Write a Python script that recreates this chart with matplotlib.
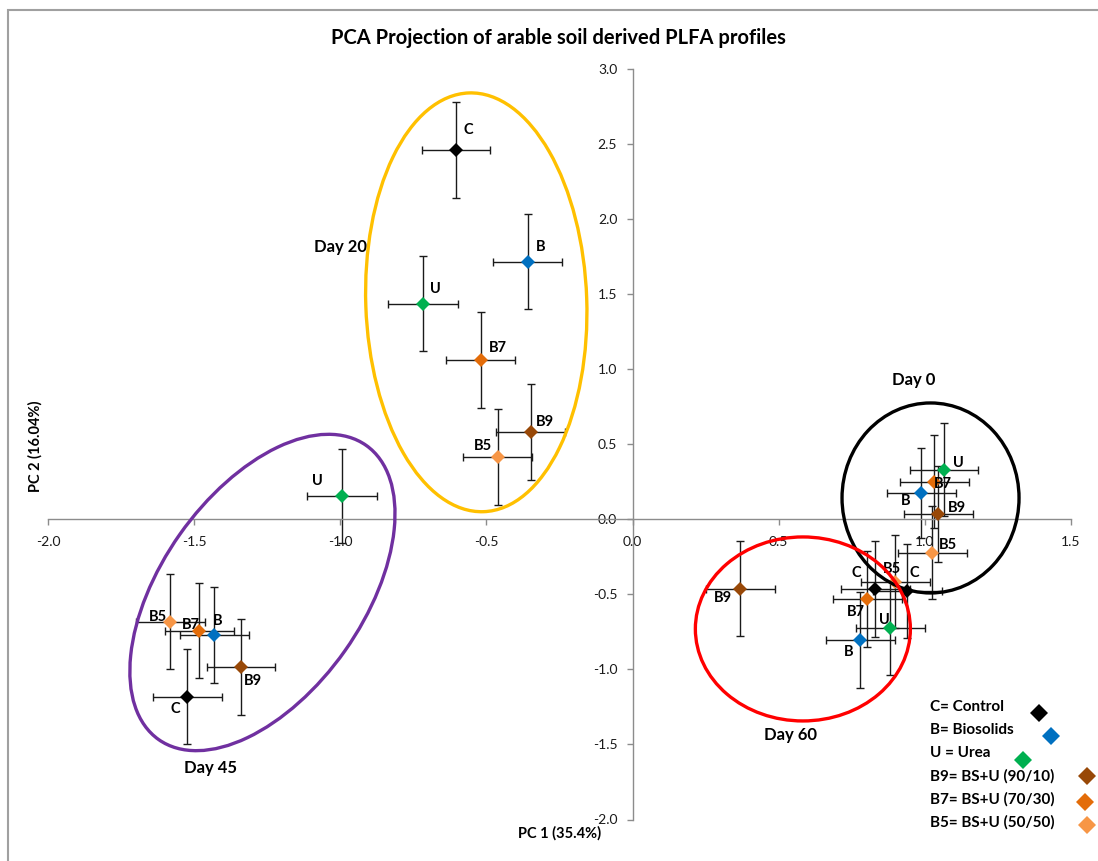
import numpy as np
import matplotlib
matplotlib.use('Agg')
import matplotlib.pyplot as plt
from matplotlib.patches import Ellipse, Rectangle
from matplotlib.transforms import ScaledTranslation

plt.rcParams['font.family'] = ['Lato', 'DejaVu Sans']
plt.rcParams['axes.unicode_minus'] = False

# sampling days, same order in every series below
days = ['Day 0', 'Day 20', 'Day 45', 'Day 60']

# treatments: short code, legend text, colour
codes = ['C', 'B', 'U', 'B9', 'B7', 'B5']
legend_text = ['C= Control', 'B= Biosolids', 'U = Urea',
               'B9= BS+U (90/10)', 'B7= BS+U (70/30)', 'B5= BS+U (50/50)']
colors = ['#000000', '#0070C0', '#00B050', '#984807', '#E36C09', '#F79646']

# PC1 / PC2 scores (mean) per treatment, by day
pc1 = {
    'C':  [0.940, -0.605, -1.525, 0.831],
    'B':  [0.988, -0.359, -1.432, 0.779],
    'U':  [1.067, -0.718, -0.995, 0.882],
    'B9': [1.046, -0.349, -1.340, 0.369],
    'B7': [1.032, -0.520, -1.484, 0.803],
    'B5': [1.026, -0.462, -1.583, 0.899],
}
pc2 = {
    'C':  [-0.477, 2.463, -1.183, -0.463],
    'B':  [0.177, 1.717, -0.770, -0.803],
    'U':  [0.330, 1.437, 0.157, -0.723],
    'B9': [0.037, 0.583, -0.983, -0.463],
    'B7': [0.250, 1.063, -0.743, -0.530],
    'B5': [-0.223, 0.417, -0.683, -0.417],
}
# error bars
pc1_err = {
    'C':  [0.118, 0.116, 0.118, 0.118],
    'B':  [0.118, 0.118, 0.118, 0.118],
    'U':  [0.117, 0.120, 0.120, 0.118],
    'B9': [0.118, 0.118, 0.117, 0.118],
    'B7': [0.118, 0.118, 0.118, 0.118],
    'B5': [0.119, 0.118, 0.118, 0.118],
}
pc2_err = {
    'C':  [0.31, 0.32, 0.317, 0.32],
    'B':  [0.30, 0.317, 0.317, 0.32],
    'U':  [0.31, 0.317, 0.313, 0.313],
    'B9': [0.32, 0.317, 0.32, 0.317],
    'B7': [0.31, 0.32, 0.317, 0.32],
    'B5': [0.31, 0.32, 0.317, 0.31],
}

# label offsets (pixels, right / up) for each point
lab_off = {
    'C':  [(7, 18), (12, 20), (-12, -12), (-19, 16)],
    'B':  [(-15, -8), (13, 15), (3, 14), (-11, -12)],
    'U':  [(14, 7), (13, 15), (-25, 15), (-6, 8)],
    'B9': [(19, 6), (14, 10), (12, -14), (-17, -9)],
    'B7': [(9, -2), (17, 12), (-8, 6), (-11, -13)],
    'B5': [(16, 8), (-15, 11), (-12, 5), (-3, 13)],
}

# grouping ellipses: centre (data), width/height (inches), angle, colour
groups = ['Day 0', 'Day 20', 'Day 45', 'Day 60']
ell_center = [(1.020, 0.143), (-0.535, 1.447), (-1.267, -0.487), (0.583, -0.730)]
ell_size = [(1.77, 1.90), (2.21, 4.19), (3.60, 2.02), (2.15, 1.84)]
ell_angle = [0, 2, 54.8, 0]
ell_color = ['#000000', '#FFC000', '#7030A0', '#FF0000']
grp_label_pos = [(0.961, 0.93), (-1.0, 1.817), (-1.446, -1.657), (0.540, -1.437)]

W, H = 1098, 861
fig = plt.figure(figsize=(W / 100, H / 100), dpi=100)
ax = fig.add_axes([48.3 / W, 1 - 819.5 / H, (1070.75 - 48.3) / W, (819.5 - 69.3) / H])

ax.set_xlim(-2.0, 1.5)
ax.set_ylim(-2.0, 3.0)

# axes crossing at zero like excel
for s in ['top', 'right']:
    ax.spines[s].set_visible(False)
ax.spines['left'].set_position(('data', 0))
ax.spines['bottom'].set_position(('data', 0))
for s in ['left', 'bottom']:
    ax.spines[s].set_color('#8c8c8c')
    ax.spines[s].set_linewidth(1.0)
ax.set_xticks(np.arange(-2.0, 1.51, 0.5))
ax.set_yticks(np.arange(-2.0, 3.01, 0.5))
ax.set_xticklabels(['%.1f' % v for v in np.arange(-2.0, 1.51, 0.5)])
ax.set_yticklabels(['%.1f' % v for v in np.arange(-2.0, 3.01, 0.5)])
ax.tick_params(axis='x', direction='out', length=4, width=1, color='#8c8c8c',
               pad=8, labelsize=10, labelcolor='#1a1a1a')
ax.tick_params(axis='y', direction='out', length=4, width=1, color='#8c8c8c',
               pad=7, labelsize=10, labelcolor='#1a1a1a')

# points with error bars
for code, col in zip(codes, colors):
    ax.errorbar(pc1[code], pc2[code], xerr=pc1_err[code], yerr=pc2_err[code],
                fmt='none', ecolor='#1a1a1a', elinewidth=1.0, capsize=3.2,
                capthick=1.0, zorder=2, clip_on=False)
    ax.plot(pc1[code], pc2[code], 'D', color=col, markersize=7,
            markeredgewidth=0, zorder=3, clip_on=False)
    for i in range(len(days)):
        dx, dy = lab_off[code][i]
        ax.annotate(code, (pc1[code][i], pc2[code][i]), xytext=(dx, dy),
                    textcoords='offset pixels', ha='center', va='center',
                    fontsize=10.5, fontweight='bold', zorder=4)

# ellipses around each sampling day
for c, (w, h), a, col in zip(ell_center, ell_size, ell_angle, ell_color):
    tr = fig.dpi_scale_trans + ScaledTranslation(c[0], c[1], ax.transData)
    ax.add_patch(Ellipse((0, 0), w, h, angle=a, fill=False, edgecolor=col,
                         linewidth=2.4, transform=tr, zorder=5, clip_on=False))
for g, p in zip(groups, grp_label_pos):
    ax.text(p[0], p[1], g, ha='center', va='center', fontsize=12,
            fontweight='bold')

# titles
fig.text(558 / W, 1 - 38 / H, 'PCA Projection of arable soil derived PLFA profiles',
         ha='center', va='center', fontsize=14.5, fontweight='bold')
fig.text(35 / W, 1 - 446 / H, 'PC 2 (16.04%)', rotation=90, ha='center',
         va='center', fontsize=10.5, fontweight='bold')
fig.text(560 / W, 1 - 833 / H, 'PC 1 (35.4%)', ha='center', va='center',
         fontsize=10.5, fontweight='bold')

# hand placed legend (text + staggered markers as in the original)
leg_text_y = [707, 730, 753, 776, 799, 822]
leg_mark_xy = [(1039, 713), (1051, 736), (1023, 760), (1087, 776), (1085, 802), (1087, 825)]
for t, ty, (mx, my), col in zip(legend_text, leg_text_y, leg_mark_xy, colors):
    fig.text(930 / W, 1 - ty / H, t, ha='left', va='center', fontsize=11,
             fontweight='bold')
    fig.add_artist(plt.Line2D([mx / W], [1 - my / H], marker='D', color=col,
                              markersize=9, markeredgewidth=0,
                              transform=fig.transFigure))

# grey chart frame
fig.add_artist(Rectangle((8 / W, -0.1), 1.2, 1.1 - 10 / H, fill=False,
                         edgecolor='#a0a0a0', linewidth=1.5,
                         transform=fig.transFigure))

fig.savefig('out.png', dpi=100)
